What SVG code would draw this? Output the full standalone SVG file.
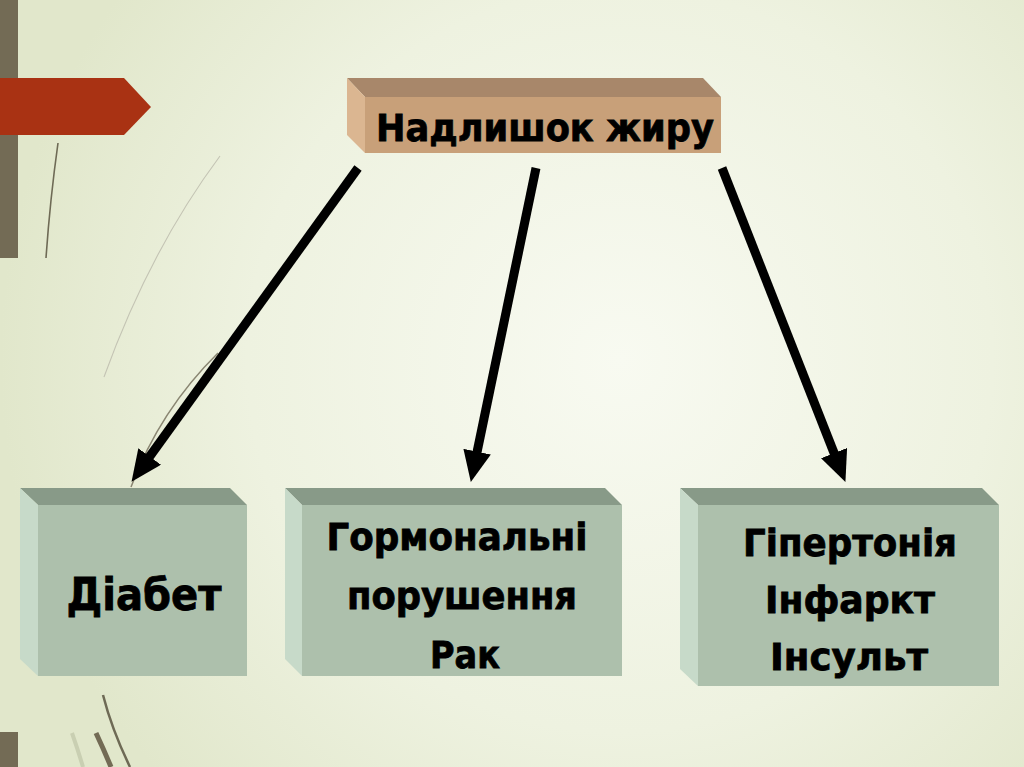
<svg xmlns="http://www.w3.org/2000/svg" width="1024" height="767" viewBox="0 0 1024 767">
<defs>
<radialGradient id="bg" cx="620" cy="360" r="620" gradientUnits="userSpaceOnUse">
<stop offset="0" stop-color="#f8faf1"/>
<stop offset="0.6" stop-color="#eef2e0"/>
<stop offset="1" stop-color="#e1e7cb"/>
</radialGradient>
<marker id="ah" markerUnits="userSpaceOnUse" markerWidth="32" markerHeight="28" refX="8" refY="14" orient="auto">
<path d="M0,0 L31,14 L0,28 z" fill="#000"/>
</marker>
<style>
.txt{font-family:"DejaVu Sans","Noto Sans",sans-serif;font-weight:bold;fill:#000;stroke:#000;stroke-width:0.8;text-anchor:middle}
.gfront{fill:#adc0ac}
.gtop{fill:#889a88}
.gside{fill:#c7dac9}
.arrow{stroke:#000;stroke-width:9;fill:none;marker-end:url(#ah)}
</style>
</defs>
<rect width="1024" height="767" fill="url(#bg)"/>
<!-- decoration -->
<rect x="0" y="0" width="18" height="258" fill="#736b55"/>
<rect x="0" y="732" width="18" height="35" fill="#736b55"/>
<path d="M0,78 L124,78 L151,107 L124,135 L0,135 z" fill="#a93213"/>
<path d="M58,143 Q50,200 46,258" stroke="#6e6a55" stroke-width="1.6" fill="none"/>
<path d="M220,156 Q150,250 104,377" stroke="#c4c4b4" stroke-width="1.1" fill="none"/>
<path d="M218,353 Q160,410 131,487" stroke="#8a8672" stroke-width="1.5" fill="none"/>
<path d="M103,695 Q112,730 130,767" stroke="#6e6a55" stroke-width="2.5" fill="none"/>
<path d="M96,733 Q104,750 111,767" stroke="#736b55" stroke-width="5" fill="none"/>
<path d="M72,733 Q78,750 83,767" stroke="#c9cfb2" stroke-width="4" fill="none"/>
<!-- top node -->
<g id="node-fat">
<polygon points="347,78 703,78 721,97 365,97" fill="#a8876a"/>
<polygon points="347,78 365,97 365,153 347,135" fill="#dbb691"/>
<rect x="365" y="97" width="356" height="56" fill="#c8a079"/>
<text class="txt" x="545" y="141" font-size="38" textLength="338" lengthAdjust="spacingAndGlyphs">Надлишок жиру</text>
</g>
<!-- bottom nodes -->
<g id="node-diabetes">
<polygon class="gtop" points="20,488 230,488 247,505 38,505"/>
<polygon class="gside" points="20,488 38,505 38,676 20,659"/>
<rect class="gfront" x="38" y="505" width="209" height="171"/>
<text class="txt" x="144" y="610" font-size="44" textLength="155" lengthAdjust="spacingAndGlyphs">Діабет</text>
</g>
<g id="node-hormonal">
<polygon class="gtop" points="285,488 605,488 622,505 302,505"/>
<polygon class="gside" points="285,488 302,505 302,676 285,659"/>
<rect class="gfront" x="302" y="505" width="320" height="171"/>
<text class="txt" x="457" y="550" font-size="37" textLength="261" lengthAdjust="spacingAndGlyphs">Гормональні</text>
<text class="txt" x="462" y="609" font-size="37" textLength="230" lengthAdjust="spacingAndGlyphs">порушення</text>
<text class="txt" x="465" y="668" font-size="37" textLength="70" lengthAdjust="spacingAndGlyphs">Рак</text>
</g>
<g id="node-cardio">
<polygon class="gtop" points="680,488 982,488 999,505 698,505"/>
<polygon class="gside" points="680,488 698,505 698,686 680,669"/>
<rect class="gfront" x="698" y="505" width="301" height="181"/>
<text class="txt" x="850" y="556" font-size="37" textLength="214" lengthAdjust="spacingAndGlyphs">Гіпертонія</text>
<text class="txt" x="850" y="613" font-size="37" textLength="170" lengthAdjust="spacingAndGlyphs">Інфаркт</text>
<text class="txt" x="849" y="670" font-size="37" textLength="158" lengthAdjust="spacingAndGlyphs">Інсульт</text>
</g>
<!-- connectors -->
<g id="connectors">
<line class="arrow" x1="358" y1="168" x2="145" y2="463"/>
<line class="arrow" x1="536" y1="168" x2="475.5" y2="459.5"/>
<line class="arrow" x1="722" y1="168" x2="837" y2="460.5"/>
</g>
</svg>
